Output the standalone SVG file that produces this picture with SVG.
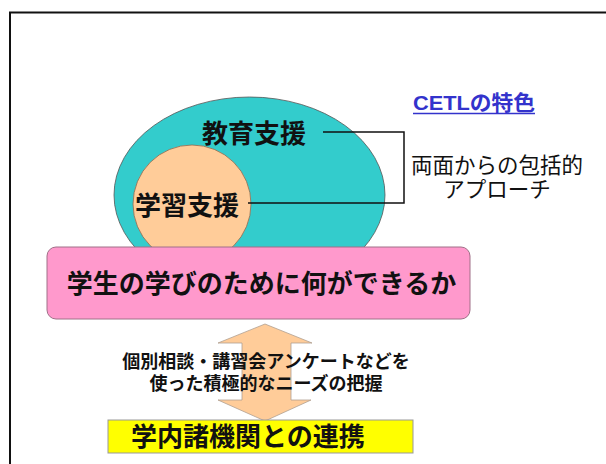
<svg xmlns="http://www.w3.org/2000/svg" width="606" height="464" viewBox="0 0 606 464">
<style>
.t{font-family:"Liberation Sans","Noto Sans CJK JP","Noto Sans CJK SC",sans-serif;fill:#111}
.b{font-weight:bold}
.c{text-anchor:middle}
.ln{fill:none;stroke:#111;stroke-width:1.5}
</style>
<rect width="606" height="464" fill="#fff"/>
<rect x="10" y="12.5" width="700" height="500" fill="none" stroke="#111" stroke-width="2"/>
<g id="kyoiku">
<ellipse cx="249.5" cy="195" rx="135.5" ry="98" fill="#33cccc" stroke="#555" stroke-width="0.8"/>
<text class="t b c" x="254" y="143" font-size="26">教育支援</text>
</g>
<g id="gakushu">
<circle cx="192" cy="204" r="59" fill="#ffcc99" stroke="#8a6a50" stroke-width="0.8"/>
<text class="t b c" x="187" y="215" font-size="26">学習支援</text>
</g>
<g id="connectors">
<polyline class="ln" points="323,132 404,132 404,203 248,203"/>
<path id="arrow" d="M265,324 L312,343 L291,343 L291,400 L311,400 L265,421 L218,400 L242,400 L242,343 L218,343 Z" fill="#ffcc99" stroke="#b0a090" stroke-width="0.8"/>
</g>
<g id="cetl">
<text x="413" y="110" font-size="21" class="t b" style="fill:#3333cc" textLength="122" lengthAdjust="spacingAndGlyphs">CETLの特色</text>
<line x1="413" y1="113.5" x2="535" y2="113.5" stroke="#3333cc" stroke-width="1.5"/>
</g>
<g id="ryomen">
<text class="t c" font-size="21.5"><tspan x="497" y="172.5">両面からの包括的</tspan><tspan x="497" y="196.5">アプローチ</tspan></text>
</g>
<g id="gakusei">
<rect x="47" y="247" width="423" height="72" rx="9" fill="#ff99cc" stroke="#a07088" stroke-width="1"/>
<text class="t b c" x="261.5" y="293" font-size="26">学生の学びのために何ができるか</text>
</g>
<g id="needs">
<text class="t b c" font-size="18"><tspan x="266" y="368">個別相談・講習会アンケートなどを</tspan><tspan x="266" y="390">使った積極的なニーズの把握</tspan></text>
</g>
<g id="renkei">
<rect x="108" y="420" width="305" height="33" fill="#ffff00" stroke="#999" stroke-width="1"/>
<text class="t b" x="131" y="446" font-size="26">学内諸機関との連携</text>
</g>
</svg>
